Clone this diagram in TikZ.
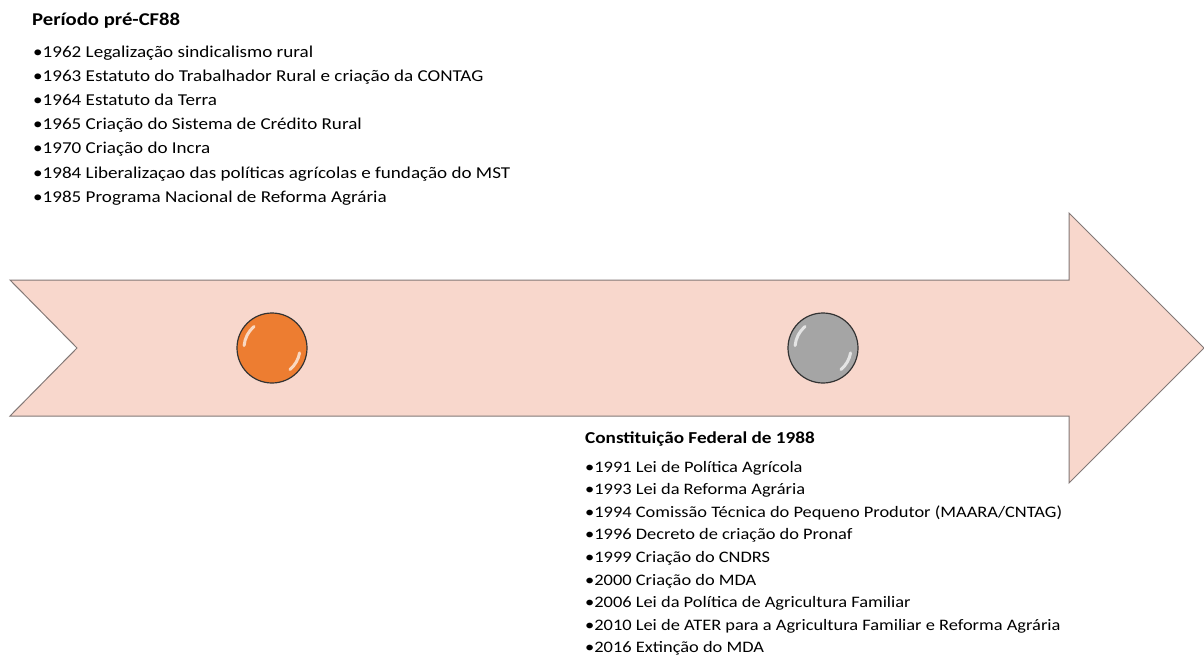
\documentclass[tikz,border=0pt]{standalone}
\usepackage{fontspec}
\setmainfont{Carlito}
\newfontfamily\widefont[FakeStretch=1.15]{Carlito}
\definecolor{arrowfill}{RGB}{248,215,204}
\definecolor{arrowedge}{RGB}{130,120,118}
\definecolor{ballorange}{RGB}{237,125,49}
\definecolor{ballgray}{RGB}{165,165,165}
\tikzset{
  txttop/.style={anchor=base west, inner sep=0pt, font=\widefont\fontsize{16.6}{19}\selectfont},
  ttltop/.style={anchor=base west, inner sep=0pt, font=\widefont\fontsize{18}{21}\selectfont\bfseries},
  txtbot/.style={anchor=base west, inner sep=0pt, font=\widefont\fontsize{16}{19}\selectfont},
  ttlbot/.style={anchor=base west, inner sep=0pt, font=\widefont\fontsize{16.7}{19}\selectfont\bfseries},
  ball/.style={circle, minimum size=70pt, inner sep=0pt, draw=black!80, line width=1.2pt},
  gloss/.style={white, line width=3pt, line cap=round, opacity=0.7}
}
\begin{document}
\begin{tikzpicture}[x=1pt,y=-1pt]
\useasboundingbox (0,0) rectangle (1204,661);
% big arrow
\draw[fill=arrowfill, draw=arrowedge, line width=1pt, line join=miter]
  (10,280) -- (1069,280) -- (1069,213) -- (1204,348) -- (1069,483) -- (1069,416) -- (10,416) -- (77,348) -- cycle;
% balls
\node[ball, fill=ballorange] (b1) at (272,348) {};
\node[ball, fill=ballgray] (b2) at (823,348) {};
\foreach \b in {b1,b2}{
  \draw[gloss] (\b.center) ++(-175:28) arc[start angle=-175, end angle=-130, radius=28];
  \draw[gloss] (\b.center) ++(10:28) arc[start angle=10, end angle=50, radius=28];
}
% top text
\node[ttltop] (t1) at (32,26) {Período pré-CF88};
\foreach \s [count=\i from 0] in {
  {1962 Legalização sindicalismo rural},
  {1963 Estatuto do Trabalhador Rural e criação da CONTAG},
  {1964 Estatuto da Terra},
  {1965 Criação do Sistema de Crédito Rural},
  {1970 Criação do Incra},
  {1984 Liberalizaçao das políticas agrícolas e fundação do MST},
  {1985 Programa Nacional de Reforma Agrária}}{
  \node[txttop] (a\i) at (33,57+24.2*\i) {•\s};
}
% bottom text
\node[ttlbot] (t2) at (585,443) {Constituição Federal de 1988};
\foreach \s [count=\i from 0] in {
  {1991 Lei de Política Agrícola},
  {1993 Lei da Reforma Agrária},
  {1994 Comissão Técnica do Pequeno Produtor (MAARA/CNTAG)},
  {1996 Decreto de criação do Pronaf},
  {1999 Criação do CNDRS},
  {2000 Criação do MDA},
  {2006 Lei da Política de Agricultura Familiar},
  {2010 Lei de ATER para a Agricultura Familiar e Reforma Agrária},
  {2016 Extinção do MDA}}{
  \node[txtbot] (c\i) at (585,472+22.6*\i) {•\s};
}
\end{tikzpicture}
\end{document}
